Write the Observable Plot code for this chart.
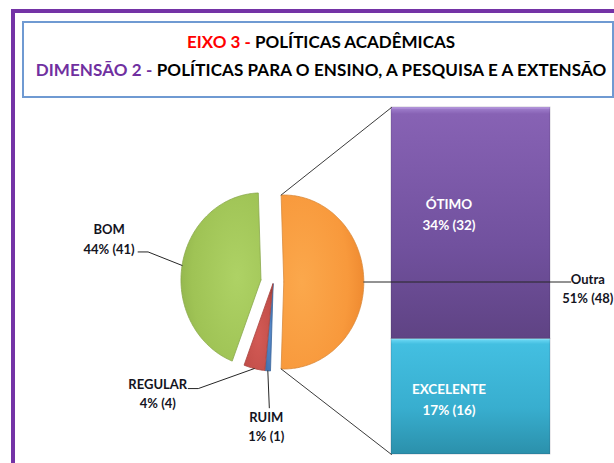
<!DOCTYPE html>
<html>
<head>
<meta charset="utf-8">
<script src="https://cdn.jsdelivr.net/npm/d3@7"></script>
<script src="https://cdn.jsdelivr.net/npm/@observablehq/plot@0.6"></script>
<style>
html, body { margin: 0; padding: 0; background: #fff; }
#page { position: relative; width: 614px; height: 463px; overflow: hidden; background: #fff; font-family: Lato, "Open Sans", sans-serif; }
#frame { position: absolute; left: 10.5px; top: 9px; width: 700px; height: 600px; border: 4px solid #7433a6; box-sizing: border-box; }
#tbox { position: absolute; left: 22px; top: 20.5px; width: 592px; height: 77px; border: 2px solid #6f9ad2; box-sizing: border-box; background: #fff; }
.tl { position: absolute; left: 22px; width: 598px; text-align: center; font-weight: bold; font-size: 17px; line-height: 20px; color: #000; white-space: nowrap; }
#t2 { letter-spacing: 0.1px; }
#bar { position: absolute; left: 391px; top: 107px; }
#pie { position: absolute; left: 0; top: 0; }
#page svg { background: none !important; }
</style>
</head>
<body>
<div id="page">
  <div id="frame"></div>
  <div id="tbox"></div>
  <div class="tl" id="t1" style="top:31.8px"></div>
  <div class="tl" id="t2" style="top:59.5px"></div>
  <div id="bar"></div>
  <div id="pie"></div>
</div>
<script>
// ---------- data ----------
const titleParts1 = ["EIXO 3 - ", "POLÍTICAS ACADÊMICAS"];
const titleParts2 = ["DIMENSÃO 2 - ", "POLÍTICAS PARA O ENSINO, A PESQUISA E A EXTENSÃO"];
const pieCategories = ["Outra", "RUIM", "REGULAR", "BOM"];
const pieValues = [48, 1, 4, 41];
const barCategories = ["EXCELENTE", "ÓTIMO"];
const barValues = [16, 32];
const otherCategory = "Outra";

// ---------- title ----------
document.getElementById("t1").innerHTML =
  `<span style="color:#ff0000">${titleParts1[0]}</span>${titleParts1[1]}`;
document.getElementById("t2").innerHTML =
  `<span style="color:#7030a0">${titleParts2[0]}</span>${titleParts2[1]}`;

const total = d3.sum(pieValues);
const pct = v => `${Math.round(v / total * 100)}% (${v})`;

// ---------- layout / style ----------
const CX = 272.8, CY = 281.5, RX = 80, RY = 87;
const explode = {Outra: 10.5, RUIM: 2, REGULAR: 2, BOM: 12.5};
const sliceStyle = {
  Outra:   {fill: "url(#gOr)", edge: "#d98a3c"},
  RUIM:    {fill: "url(#gBl)", edge: "#3c679c"},
  REGULAR: {fill: "url(#gRe)", edge: "#a8443f"},
  BOM:     {fill: "url(#gGr)", edge: "#8aa84c"}
};
const BAR = {left: 391, top: 107, width: 159, height: 347};
const rad = Math.PI / 180;

// ---------- pie geometry from values ----------
const startAngle = 90 - (pieValues[0] / total * 360) / 2;
let acc = startAngle;
const slices = pieCategories.map((c, i) => {
  const a0 = acc, a1 = acc + pieValues[i] / total * 360;
  acc = a1;
  const mid = (a0 + a1) / 2;
  const ex = explode[c];
  const vx = CX + ex * Math.sin(mid * rad), vy = CY - ex * Math.cos(mid * rad);
  const pt = a => [vx + RX * Math.sin(a * rad), vy - RY * Math.cos(a * rad)];
  return {c, v: pieValues[i], a0, a1, mid, vx, vy, pt};
});
const byCat = Object.fromEntries(slices.map(s => [s.c, s]));

const piePoints = slices.flatMap(s => {
  const n = Math.max(3, Math.ceil(s.a1 - s.a0));
  const pts = [[s.vx, s.vy]];
  for (let k = 0; k <= n; k++) pts.push(s.pt(s.a0 + (s.a1 - s.a0) * k / n));
  pts.push([s.vx, s.vy]);
  return pts.map(([x, y]) => ({slice: s.c, x, y, fill: sliceStyle[s.c].fill, edge: sliceStyle[s.c].edge}));
});

// leader lines + labels, placed relative to each slice's outer mid point
const leaderSpec = {
  BOM:     {path: [[-34, -13.5], [-44, -13.5]], text: [-73, -27.6]},
  REGULAR: {path: [[-56, 20], [-66, 20]], text: [-96.5, 24]},
  RUIM:    {path: [[1.5, 37]], text: [-1.5, 55]},
  Outra:   {path: [[207, 0]], text: [224, 5.5]}
};
const leaders = [], labels = [];
slices.forEach(s => {
  const [ex, ey] = s.pt(s.mid);
  const spec = leaderSpec[s.c];
  leaders.push({id: s.c, x: ex, y: ey});
  spec.path.forEach(([dx, dy]) => leaders.push({id: s.c, x: ex + dx, y: ey + dy}));
  labels.push({x: ex + spec.text[0], y: ey + spec.text[1], text: `${s.c}\n${pct(s.v)}`});
});
// connector lines from "Outra" slice to the bar
const other = byCat[otherCategory];
const connectors = [
  {id: "top", x: other.pt(other.a0)[0], y: other.pt(other.a0)[1]},
  {id: "top", x: BAR.left, y: BAR.top},
  {id: "bot", x: other.pt(other.a1)[0], y: other.pt(other.a1)[1]},
  {id: "bot", x: BAR.left, y: BAR.top + BAR.height}
];

function gradDefs(spec) {
  return () => {
    const d = d3.create("svg:defs");
    spec.forEach(g => {
      const el = d.append(g.type).attr("id", g.id);
      Object.entries(g.attrs).forEach(([k, v]) => el.attr(k, v));
      g.stops.forEach(([o, c]) => el.append("stop").attr("offset", o).attr("stop-color", c));
    });
    return d.node();
  };
}

const pieDefs = gradDefs([
  {type: "radialGradient", id: "gOr", attrs: {cx: 0.25, cy: 0.5, r: 0.8},
   stops: [["0%", "#fba84c"], ["70%", "#f8993c"], ["92%", "#f08c32"], ["100%", "#d9792a"]]},
  {type: "radialGradient", id: "gGr", attrs: {cx: 0.7, cy: 0.5, r: 0.8},
   stops: [["0%", "#aed265"], ["70%", "#9fc355"], ["92%", "#93b64d"], ["100%", "#7f9d40"]]},
  {type: "radialGradient", id: "gRe", attrs: {cx: 0.5, cy: 0.6, r: 0.7},
   stops: [["0%", "#d35a55"], ["80%", "#c24e49"], ["100%", "#9e3c38"]]},
  {type: "radialGradient", id: "gBl", attrs: {cx: 0.5, cy: 0.5, r: 0.7},
   stops: [["0%", "#5a8ed0"], ["100%", "#3b6aa5"]]}
]);

const piePlot = Plot.plot({
  width: 614, height: 463,
  margin: 0,
  x: {domain: [0, 614], range: [0, 614], axis: null},
  y: {domain: [0, 463], range: [0, 463], axis: null},
  color: {type: "identity"},
  style: {background: "transparent", fontFamily: "Lato, 'Open Sans', sans-serif", fontSize: "13px", overflow: "visible"},
  marks: [
    pieDefs,
    Plot.line(piePoints, {x: "x", y: "y", z: "slice", fill: "fill", stroke: "edge", strokeWidth: 0.8, curve: "linear"}),
    Plot.line(connectors, {x: "x", y: "y", z: "id", stroke: "#3b3b3b", strokeWidth: 1}),
    Plot.line(leaders, {x: "x", y: "y", z: "id", stroke: "#262626", strokeWidth: 1}),
    Plot.text(labels, {x: "x", y: "y", text: "text", fontWeight: "bold", fill: "#14141e", lineHeight: 1.47, textAnchor: "middle"})
  ]
});
document.getElementById("pie").appendChild(piePlot);

// ---------- bar of "Outra" ----------
const barCum = d3.cumsum(barValues);
const barRows = barCategories.map((c, i) => ({
  series: otherCategory,
  cat: c,
  v: barValues[i],
  y1: barCum[i] - barValues[i],
  y2: barCum[i],
  mid: barCum[i] - barValues[i] / 2,
  grad: `url(#gBar${i})`,
  label: `${c}\n${pct(barValues[i])}`
}));
const labelShift = {EXCELENTE: 1, "ÓTIMO": -10};

const barDefs = gradDefs([
  {type: "linearGradient", id: "gBar0", attrs: {x1: 0, y1: 0, x2: 0, y2: 1},
   stops: [["0%", "#9aeafc"], ["2%", "#5fd0ee"], ["5%", "#43bfe1"], ["60%", "#38aecf"], ["100%", "#2b90ab"]]},
  {type: "linearGradient", id: "gBar1", attrs: {x1: 0, y1: 0, x2: 0, y2: 1},
   stops: [["0%", "#c8aaf0"], ["1%", "#9b79c8"], ["3%", "#8762b4"], ["60%", "#71519e"], ["100%", "#5f4384"]]}
]);

const barPlot = Plot.plot({
  width: BAR.width, height: BAR.height,
  margin: 0,
  x: {type: "band", domain: [otherCategory], padding: 0, axis: null},
  y: {domain: [0, d3.sum(barValues)], axis: null},
  color: {type: "identity"},
  style: {background: "transparent", fontFamily: "Lato, 'Open Sans', sans-serif", fontSize: "13.5px", overflow: "visible"},
  marks: [
    barDefs,
    Plot.barY(barRows, {x: "series", y1: "y1", y2: "y2", fill: "grad", stroke: "rgba(40,30,60,0.25)", strokeWidth: 0.8}),
    ...barRows.map(r => Plot.text([r], {x: "series", y: "mid", text: "label", fill: "white", fontWeight: "bold", lineHeight: 1.55, dx: -22, dy: labelShift[r.cat]}))
  ]
});
document.getElementById("bar").appendChild(barPlot);
</script>
</body>
</html>
